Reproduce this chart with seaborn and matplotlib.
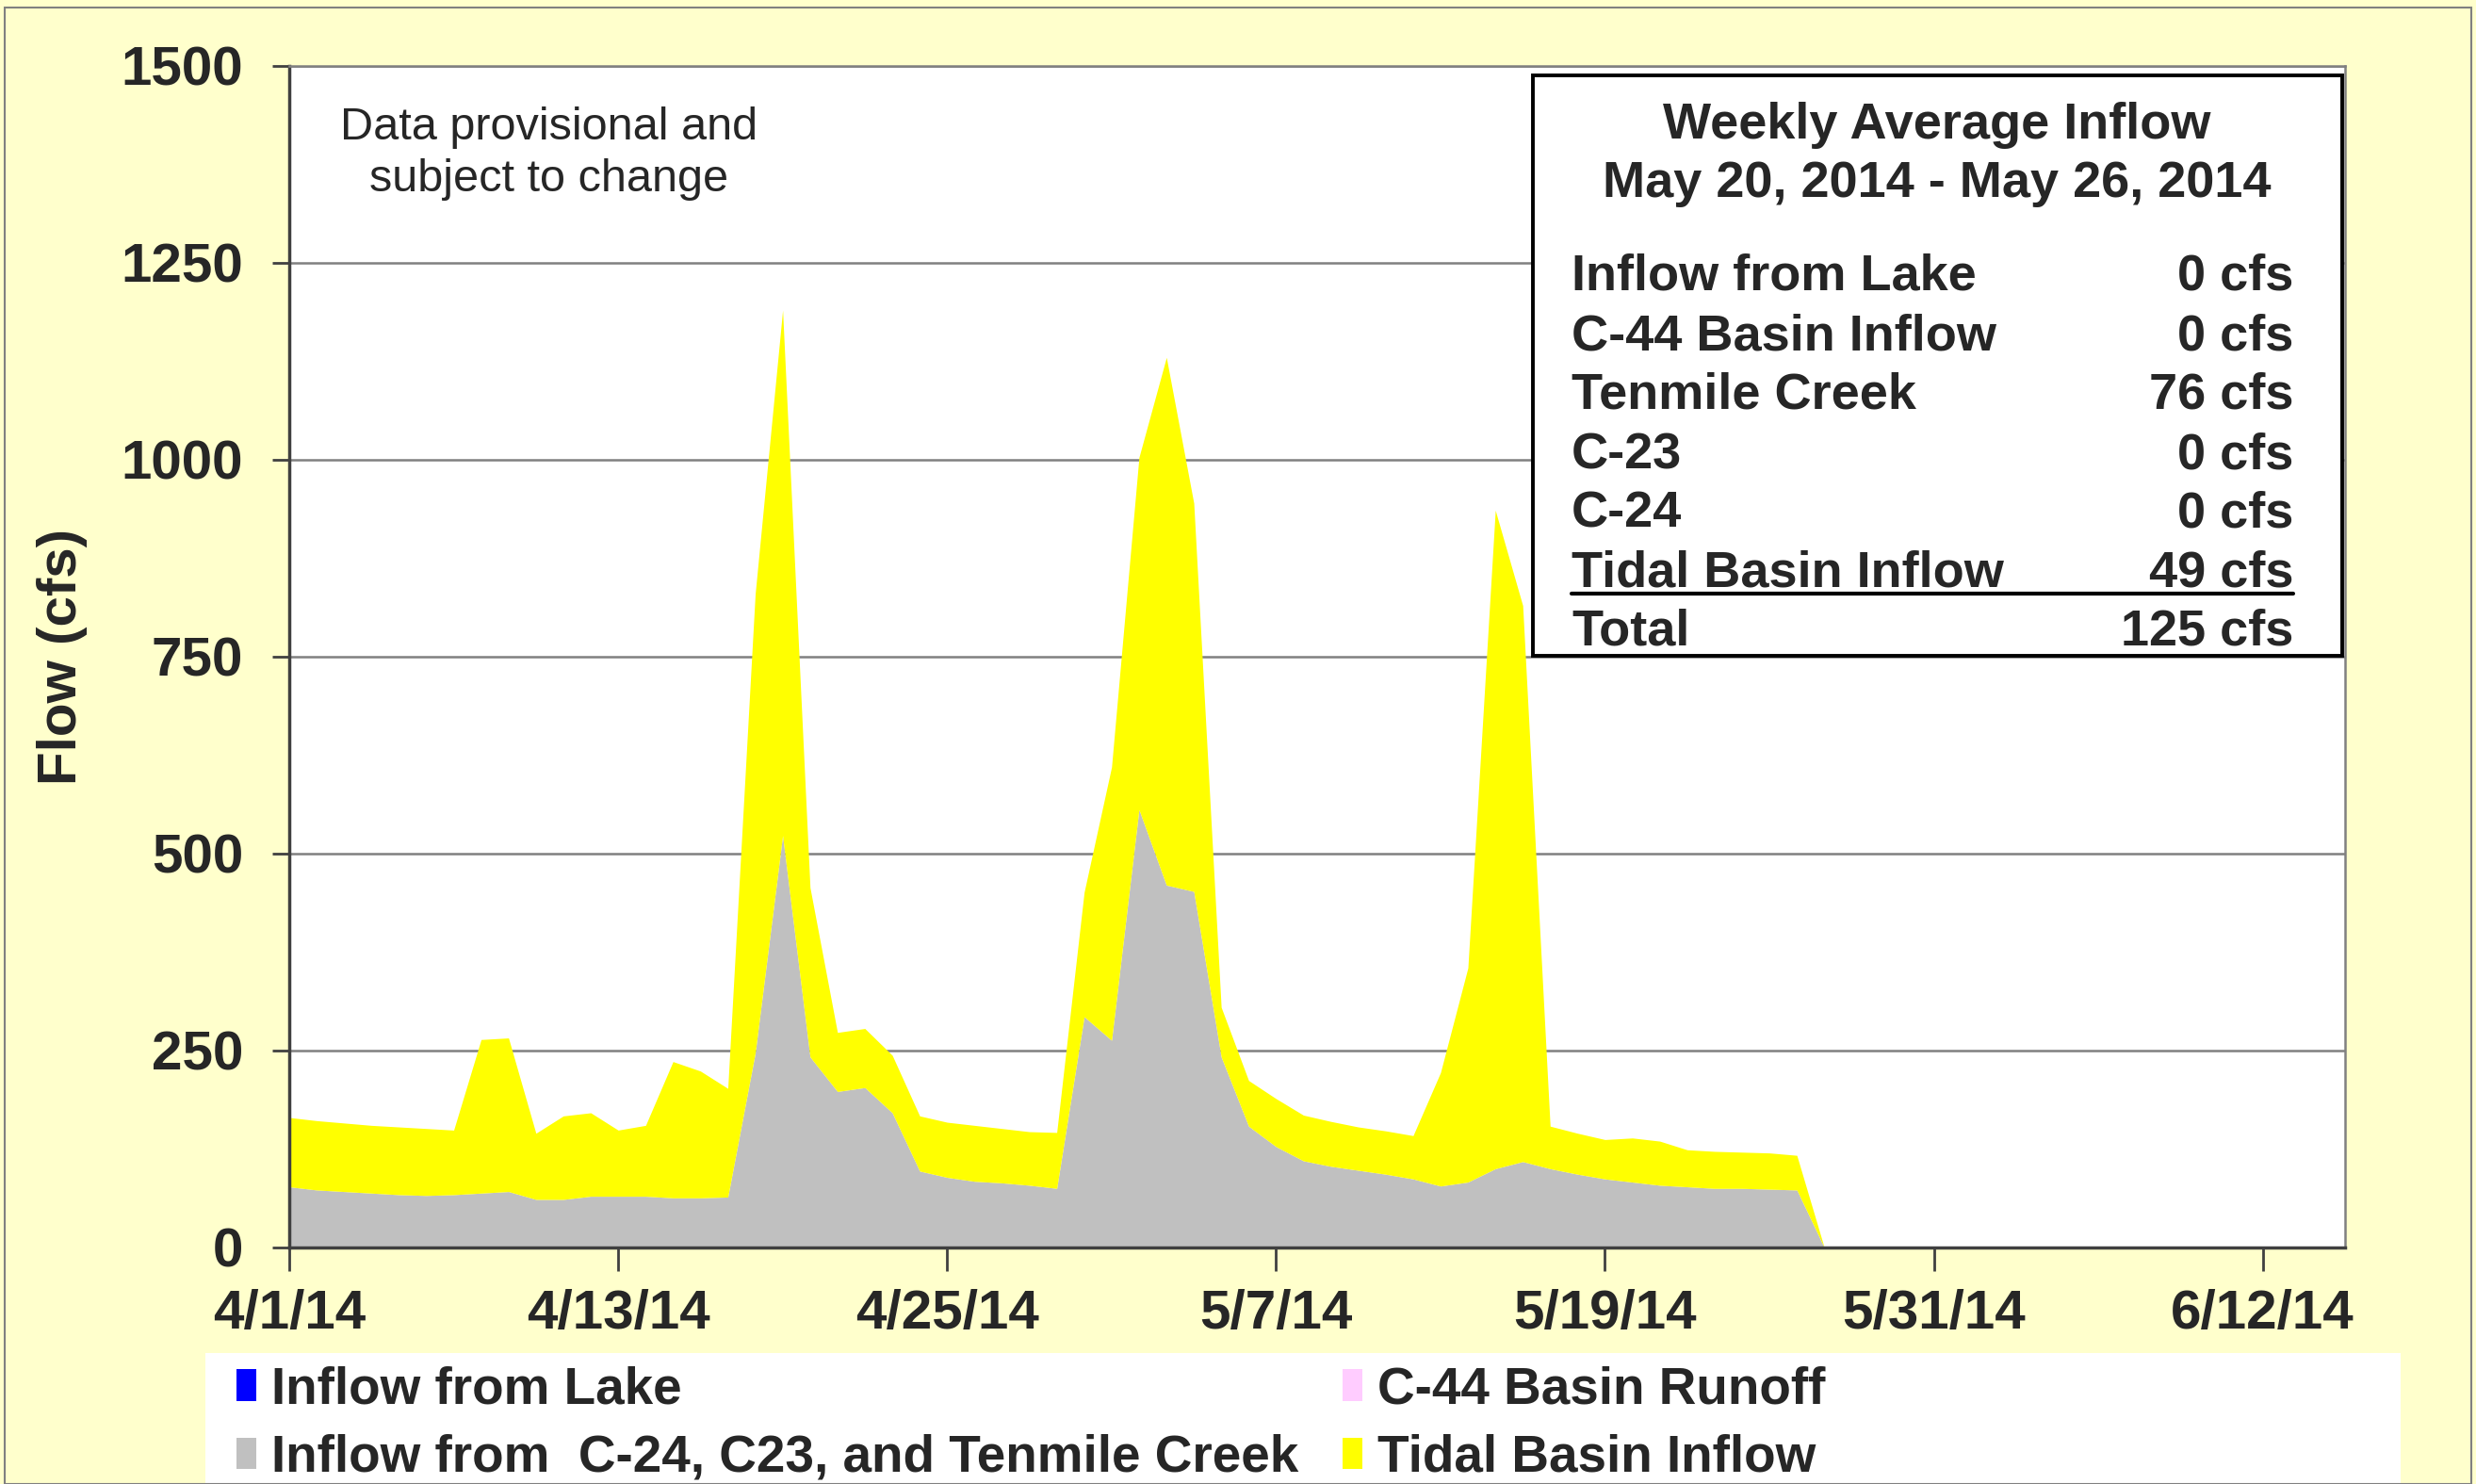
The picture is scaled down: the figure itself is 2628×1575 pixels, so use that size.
import pandas as pd
import numpy as np
import matplotlib
matplotlib.use("Agg")
import matplotlib.pyplot as plt
from matplotlib.patches import Patch, Rectangle
from matplotlib.lines import Line2D
import seaborn as sns

# ── Data (daily flows, cfs) ──
dates = pd.date_range("2014-04-01", periods=57, freq="D")

lake_inflow = [0] * 57
c44_runoff = [0] * 57

# Inflow from C-24, C-23 and Tenmile Creek (grey layer)
creek_inflow = [77, 73, 71, 69, 67, 66, 67, 69, 71, 61,
                61, 65, 65, 65, 63, 63, 64, 247, 523, 242,
                198, 203, 171, 97, 89, 84, 82, 79, 75, 293,
                263, 556, 460, 452, 242, 154, 128, 110, 103, 98,
                93, 87, 78, 83, 100, 109, 100, 93, 87, 83,
                79, 77, 75, 75, 74, 73, 0]

# Tidal basin inflow (yellow layer, stacked on top)
tidal_inflow = [88, 88, 87, 86, 86, 85, 82, 195, 195, 84,
                106, 106, 84, 90, 173, 161, 138, 583, 667, 215,
                75, 75, 73, 70, 70, 71, 69, 68, 71, 158,
                347, 447, 670, 493, 63, 58, 61, 58, 57, 55,
                55, 55, 144, 272, 836, 706, 54, 52, 50, 56,
                56, 47, 47, 46, 46, 44, 0]

series_labels = ["Inflow from Lake", "C-44 Basin Runoff",
                 "Inflow from  C-24, C23, and Tenmile Creek", "Tidal Basin Inflow"]
series_colors = ["#0000FF", "#FFCCFF", "#C0C0C0", "#FFFF00"]

tick_dates = ["2014-04-01", "2014-04-13", "2014-04-25", "2014-05-07",
              "2014-05-19", "2014-05-31", "2014-06-12"]
tick_labels = ["4/1/14", "4/13/14", "4/25/14", "5/7/14", "5/19/14", "5/31/14", "6/12/14"]
y_ticks = [0, 250, 500, 750, 1000, 1250, 1500]

box_title = "Weekly Average Inflow\nMay 20, 2014 - May 26, 2014"
box_names = ["Inflow from Lake", "C-44 Basin Inflow", "Tenmile Creek",
             "C-23", "C-24", "Tidal Basin Inflow", "Total"]
box_values = ["0 cfs", "0 cfs", "76 cfs", "0 cfs", "0 cfs", "49 cfs", "125 cfs"]

# ── Style ──
sns.set_style("white")
plt.rcParams['font.family'] = ['Liberation Sans', 'DejaVu Sans']

fig = plt.figure(figsize=(26.28, 15.75), dpi=100)
fig.patch.set_facecolor("#FFFFCC")
ax = fig.add_axes([0.1168, 0.1594, 0.8303, 0.7962])
ax.set_facecolor("white")

ax.stackplot(dates, lake_inflow, c44_runoff, creek_inflow, tidal_inflow,
             colors=series_colors, linewidth=0)

ax.set_xlim(pd.Timestamp("2014-04-01"), pd.Timestamp("2014-06-15"))
ax.set_ylim(0, 1500)
ax.set_yticks(y_ticks)
ax.set_yticklabels([str(v) for v in y_ticks])
ax.set_xticks(pd.to_datetime(tick_dates))
ax.set_xticklabels(tick_labels)

ax.set_axisbelow(True)
ax.yaxis.grid(True, color="#808080", linewidth=1.8)
ax.xaxis.grid(False)

for side in ["left", "bottom"]:
    ax.spines[side].set_color("#404040")
    ax.spines[side].set_linewidth(2.5)
for side in ["top", "right"]:
    ax.spines[side].set_color("#808080")
    ax.spines[side].set_linewidth(1.8)

ax.tick_params(axis="x", direction="out", length=18, width=2, pad=14,
               labelsize=42, color="#404040", bottom=True)
ax.tick_params(axis="y", direction="out", length=13, width=2, pad=22,
               labelsize=42, color="#404040", left=True)
for lab in ax.get_xticklabels() + ax.get_yticklabels():
    lab.set_fontweight("bold")

ax.set_ylabel("Flow (cfs)", fontsize=42, fontweight="bold")
ax.yaxis.set_label_coords(-0.098, 0.5)

# ── Note ──
fig.text(0.2218, 0.8965, "Data provisional and\nsubject to change",
         ha="center", va="center", fontsize=35, linespacing=1.28,
         multialignment="center")

# ── Weekly average box ──
fig.add_artist(Rectangle((0.6191, 0.5581), 0.3269, 0.3911, transform=fig.transFigure,
                         facecolor="white", edgecolor="black", linewidth=2.8))
fig.text(0.7824, 0.8960, box_title, ha="center", va="center", fontsize=39,
         fontweight="bold", linespacing=1.3)
row_y = [0.8171, 0.7765, 0.7371, 0.6965, 0.6571, 0.6171, 0.5778]
for name, val, y in zip(box_names, box_values, row_y):
    fig.text(0.6347, y, name, ha="left", va="center_baseline", fontsize=39, fontweight="bold")
    fig.text(0.9262, y, val, ha="right", va="center_baseline", fontsize=39, fontweight="bold")
fig.add_artist(Line2D([0.6347, 0.9262], [0.600, 0.600], transform=fig.transFigure,
                      color="black", linewidth=3))

# ── Legend ──
fig.add_artist(Rectangle((218 / 2628, 0), (2548 - 218) / 2628, (1575 - 1436) / 1575,
                         transform=fig.transFigure, facecolor="white", edgecolor="none"))
order = [0, 2, 1, 3]
handles = [Patch(facecolor=series_colors[i], edgecolor="none") for i in order]
labels = [series_labels[i] for i in order]
fig.legend(handles, labels, ncol=2, loc="upper left", bbox_to_anchor=(251 / 2628, 0.080),
           frameon=False, prop={"weight": "bold", "size": 39.5},
           handlelength=0.38, handleheight=0.57, handletextpad=0.3,
           columnspacing=0.85, labelspacing=0.38, borderpad=0, borderaxespad=0)

# figure border
fig.add_artist(Rectangle((0.002, 0.0), 0.996, 0.995, transform=fig.transFigure,
                         facecolor="none", edgecolor="#808080", linewidth=1.5))

fig.savefig("out.png", dpi=100, facecolor=fig.get_facecolor())
